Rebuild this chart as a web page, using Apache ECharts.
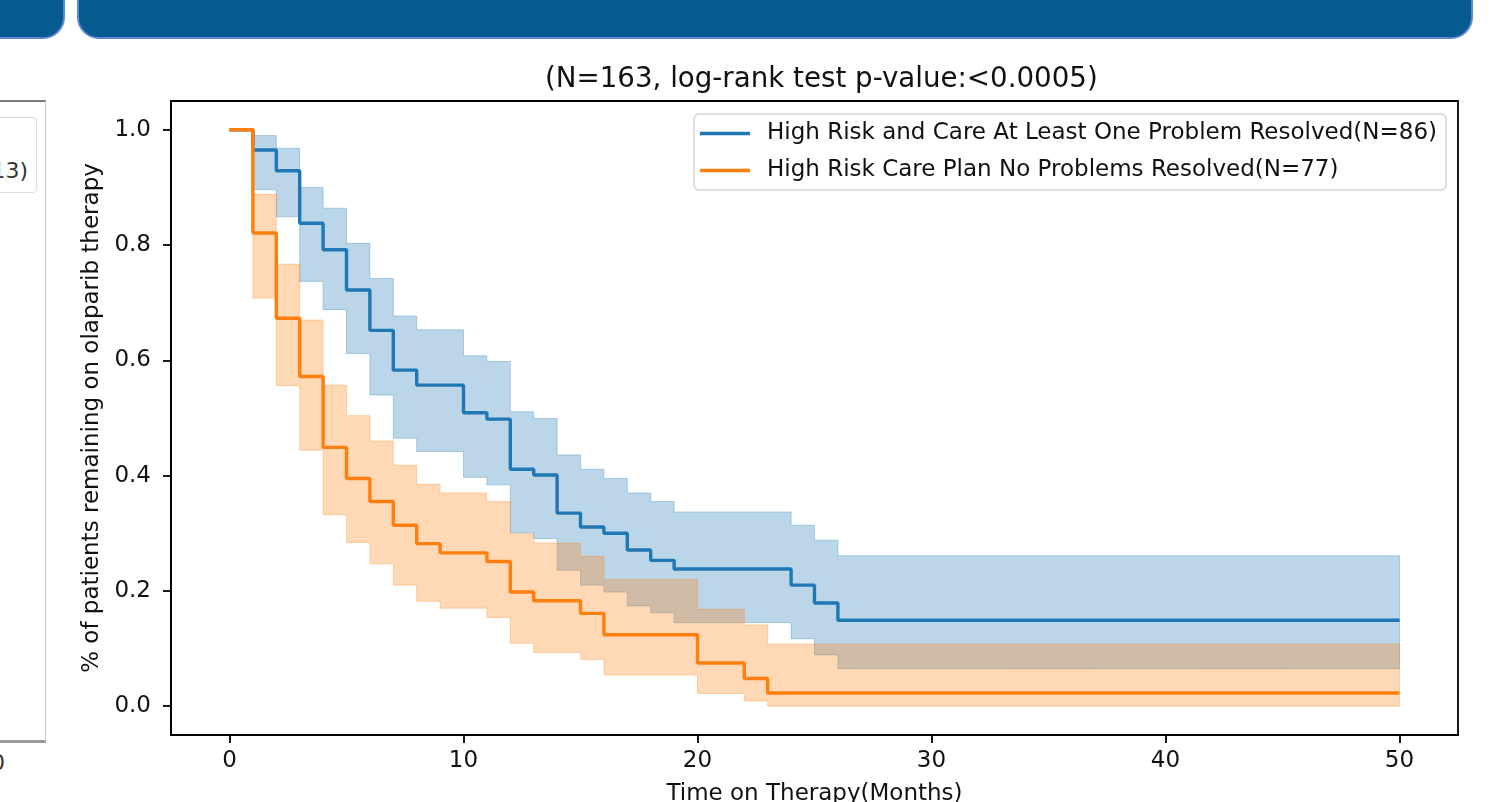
<!DOCTYPE html>
<html>
<head>
<meta charset="utf-8">
<script src="https://cdn.jsdelivr.net/npm/echarts@6/dist/echarts.min.js"></script>
<style>
  html, body { margin: 0; padding: 0; background: #fff; overflow: hidden; }
  body { width: 1493px; height: 802px; position: relative; font-family: 'DejaVu Sans', sans-serif; }
  .bar { position: absolute; top: -40px; height: 75px; background: #055a8f; border: 2px solid #5b88d4; border-radius: 22px; }
  #side { position: absolute; left: -10px; top: 100px; width: 55px; height: 638px;
          border-top: 2px solid #7a7a7a; border-right: 1px solid #c8c8c8; border-bottom: 3px solid #9a9a9a; }
  #sideLegend { position: absolute; left: -10px; top: 117px; width: 45px; height: 74px;
          border: 1px solid #dcdcdc; border-radius: 4px; overflow: hidden; }
  #sideLegend span { position: absolute; right: 8px; top: 40px; font-size: 22px; color: #333; white-space: nowrap; }
  #sideTick { position: absolute; left: -9px; top: 750px; font-size: 22px; color: #333; }
  #chart { position: absolute; left: 0; top: 0; width: 1493px; height: 802px; }
</style>
</head>
<body>
<div class="bar" style="left:-40px; width:101px;"></div>
<div class="bar" style="left:77px; width:1392px;"></div>
<div id="side"></div>
<div id="sideLegend"><span>(N=113)</span></div>
<div id="sideTick">0</div>
<div id="chart"></div>
<script>
// High Risk and Care At Least One Problem Resolved (N=86)
const blueTime  = [0, 1, 2, 3, 4, 5, 6, 7, 8, 10, 11, 12, 13, 14, 15, 16, 17, 18, 19, 24, 25, 26, 50]
const blueSurv  = [1, 0.965, 0.929, 0.838, 0.792, 0.722, 0.652, 0.583, 0.557, 0.509, 0.498, 0.411, 0.401, 0.335, 0.311, 0.300, 0.271, 0.253, 0.238, 0.210, 0.179, 0.149, 0.149]
const blueUpper = [1, 0.990, 0.968, 0.900, 0.864, 0.803, 0.742, 0.677, 0.653, 0.608, 0.598, 0.511, 0.499, 0.436, 0.411, 0.395, 0.370, 0.355, 0.337, 0.314, 0.288, 0.261, 0.261]
const blueLower = [1, 0.896, 0.849, 0.737, 0.688, 0.612, 0.540, 0.465, 0.442, 0.397, 0.384, 0.301, 0.291, 0.236, 0.210, 0.198, 0.174, 0.162, 0.145, 0.117, 0.089, 0.065, 0.065]

// High Risk Care Plan No Problems Resolved (N=77)
const orangeTime  = [0, 1, 2, 3, 4, 5, 6, 7, 8, 9, 11, 12, 13, 15, 16, 20, 22, 23, 50]
const orangeSurv  = [1, 0.821, 0.673, 0.572, 0.449, 0.395, 0.355, 0.314, 0.282, 0.266, 0.251, 0.198, 0.183, 0.161, 0.124, 0.075, 0.048, 0.023, 0.023]
const orangeUpper = [1, 0.888, 0.767, 0.670, 0.557, 0.504, 0.460, 0.418, 0.385, 0.370, 0.355, 0.299, 0.283, 0.260, 0.220, 0.168, 0.141, 0.108, 0.108]
const orangeLower = [1, 0.708, 0.556, 0.444, 0.332, 0.284, 0.247, 0.210, 0.182, 0.170, 0.154, 0.109, 0.093, 0.081, 0.054, 0.022, 0.009, 0, 0]

const xTicks = [0, 10, 20, 30, 40, 50]
const yTicks = [0, 0.2, 0.4, 0.6, 0.8, 1.0]

const blueName = 'High Risk and Care At Least One Problem Resolved(N=86)'
const orangeName = 'High Risk Care Plan No Problems Resolved(N=77)'
const BLUE = '#1f77b4'
const ORANGE = '#ff7f0e'
const FONT = 'DejaVu Sans'

const chart = echarts.init(document.getElementById('chart'))

// confidence band drawn as a step polygon (post step), through the axis scales
const bandSeries = (time, lower, upper, color) => {
  return {
    type: 'custom',
    silent: true,
    z: 1,
    clip: true,
    data: [[0, 0]],
    renderItem: (params, api) => {
      const pts = []
      for (let i = 0; i < time.length; i++) {
        const next = i + 1 < time.length ? time[i + 1] : time[i]
        pts.push(api.coord([time[i], upper[i]]), api.coord([next, upper[i]]))
      }
      for (let i = time.length - 1; i >= 0; i--) {
        const next = i + 1 < time.length ? time[i + 1] : time[i]
        pts.push(api.coord([next, lower[i]]), api.coord([time[i], lower[i]]))
      }
      return {
        type: 'polygon',
        shape: {points: pts},
        style: {fill: color, stroke: color, lineWidth: 1, opacity: 0.3}
      }
    }
  }
}

const lineSeries = (name, time, surv, color) => {
  return {
    name: name, type: 'line', step: 'end', showSymbol: false, z: 3,
    itemStyle: {color: color},
    lineStyle: {color: color, width: 3.4},
    data: time.map((t, i) => [t, surv[i]])
  }
}

const option = {
  animation: false,
  title: {
    text: '(N=163, log-rank test p-value:<0.0005)',
    left: 540, top: 61,
    textStyle: {fontFamily: FONT, fontSize: 27.7, fontWeight: 'normal', color: '#111'}
  },
  legend: {
    data: [blueName, orangeName],
    orient: 'vertical',
    left: 694, top: 114,
    icon: 'rect', itemWidth: 50, itemHeight: 3.4, itemGap: 14,
    padding: [8, 9, 8, 6],
    selectedMode: false,
    backgroundColor: '#fff', borderColor: '#d4d4d4', borderWidth: 1.5, borderRadius: 5,
    textStyle: {fontFamily: FONT, fontSize: 23, color: '#111', padding: [0, 0, 0, 12]}
  },
  grid: {
    left: 171, right: 35, top: 101, bottom: 67,
    outerBoundsMode: 'none', containLabel: false,
    show: true, borderColor: '#000', borderWidth: 1.8, backgroundColor: 'transparent'
  },
  xAxis: {
    type: 'value', min: -2.5, max: 52.5,
    name: 'Time on Therapy(Months)', nameLocation: 'middle', nameGap: 48,
    nameTextStyle: {fontFamily: FONT, fontSize: 23, color: '#111'},
    axisLine: {show: true, onZero: false, lineStyle: {color: '#000', width: 1.8}},
    axisTick: {show: true, inside: false, length: 8, customValues: xTicks, lineStyle: {color: '#000', width: 1.8}},
    axisLabel: {customValues: xTicks, margin: 15, fontFamily: FONT, fontSize: 23, color: '#111'},
    splitLine: {show: false}
  },
  yAxis: {
    type: 'value', min: -0.05, max: 1.05,
    name: '% of patients remaining on olaparib therapy', nameLocation: 'middle', nameGap: 66,
    nameTextStyle: {fontFamily: FONT, fontSize: 23, color: '#111'},
    axisLine: {show: true, onZero: false, lineStyle: {color: '#000', width: 1.8}},
    axisTick: {show: true, inside: false, length: 8, customValues: yTicks, lineStyle: {color: '#000', width: 1.8}},
    axisLabel: {
      customValues: yTicks, margin: 20, fontFamily: FONT, fontSize: 23, color: '#111',
      formatter: (v) => v.toFixed(1)
    },
    splitLine: {show: false}
  },
  series: [
    bandSeries(blueTime, blueLower, blueUpper, BLUE),
    bandSeries(orangeTime, orangeLower, orangeUpper, ORANGE),
    lineSeries(blueName, blueTime, blueSurv, BLUE),
    lineSeries(orangeName, orangeTime, orangeSurv, ORANGE)
  ]
}

chart.setOption(option)
</script>
</body>
</html>
